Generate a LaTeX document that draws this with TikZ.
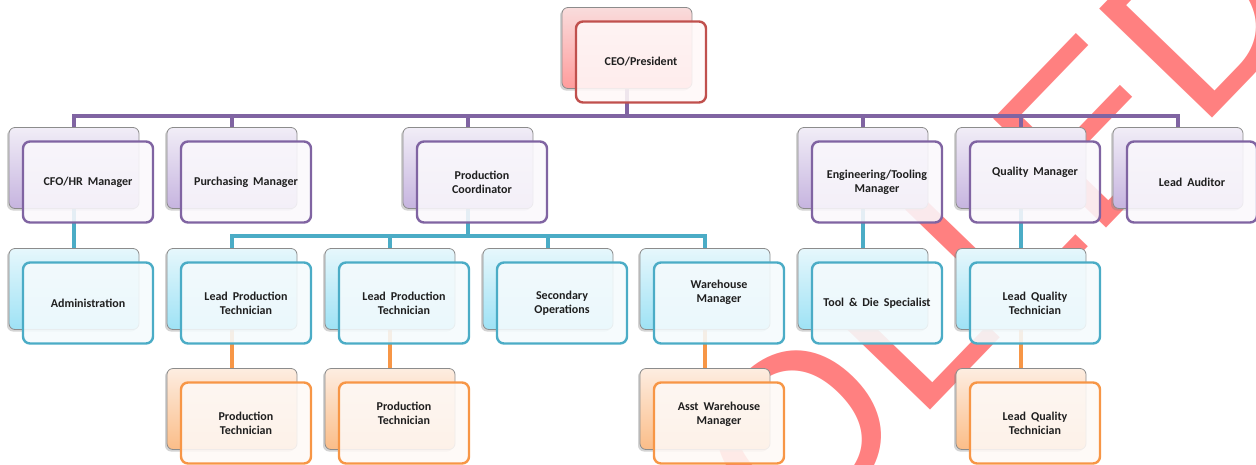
\documentclass[tikz,border=0pt]{standalone}
\usepackage{fontspec}
\setmainfont{Carlito}[WordSpace=1.8]
\newfontfamily\markfont{Liberation Sans}
\usepackage{tikz}
\usetikzlibrary{calc,shadows}

\definecolor{purpline}{HTML}{8064A2}
\definecolor{purptop}{HTML}{F1EDF7}
\definecolor{purpbot}{HTML}{C6B4DF}
\definecolor{purpfront}{HTML}{FAF8FC}
\definecolor{aqualine}{HTML}{4BACC6}
\definecolor{aquatop}{HTML}{E6F7FC}
\definecolor{aquabot}{HTML}{9EE2F5}
\definecolor{aquafront}{HTML}{F5FBFD}
\definecolor{orngline}{HTML}{F79646}
\definecolor{orngtop}{HTML}{FDEDE1}
\definecolor{orngbot}{HTML}{FBBD88}
\definecolor{orngfront}{HTML}{FEF9F6}
\definecolor{redline}{HTML}{C0504D}
\definecolor{redtop}{HTML}{F9DCDC}
\definecolor{redbot}{HTML}{FF9C9C}
\definecolor{redfront}{HTML}{FFF8F8}
\definecolor{stamp}{HTML}{FF8080}

\pgfdeclarelayer{stampl}
\pgfdeclarelayer{links}
\pgfsetlayers{stampl,links,main}

\tikzset{
  panelback/.style={draw=black!45, line width=0.8pt, rounded corners=6pt,
    top color=#1top, bottom color=#1bot, minimum width=130pt, minimum height=81pt,
    inner sep=0pt, drop shadow={shadow xshift=-2pt, shadow yshift=-2pt, opacity=0.35}},
  panelfront/.style={draw=#1line, line width=2.4pt, rounded corners=7pt,
    fill=#1front, fill opacity=0.88, minimum width=130pt, minimum height=81pt, inner sep=0pt},
  boxtext/.style={font=\bfseries\fontsize{12}{14}\selectfont, text=black!88, align=center, inner sep=0pt},
  plink/.style={draw=purpline, line width=4.5pt},
  alink/.style={draw=aqualine, line width=4pt},
  olink/.style={draw=orngline, line width=4pt},
}

% back panel, front panel and its text
\newcommand\orgbox[5][0pt]{%
  \node[panelback=#4] (#2-b) at (#3) {};
  \node[panelfront=#4] (#2) at ($(#3)+(14,14)$) {};
  \node[boxtext] (#2-t) at ([yshift=#1]#2.center) {#5};
}

\begin{document}
\begin{tikzpicture}[x=1pt, y=-1pt]
  %%%%% START %%%%%
  \useasboundingbox (0,0) rectangle (1256,464);

  \begin{pgfonlayer}{stampl}
    \node[anchor=base east, rotate=46, inner sep=0pt, text=stamp,
      font=\markfont\fontsize{228}{228}\selectfont] (stamp) at (1314,13) {UNCONTROLLED};
  \end{pgfonlayer}

  \orgbox{ceo}{627,48}{red}{CEO/President}

  \orgbox{cfo}{74,168}{purp}{CFO/HR Manager}
  \orgbox{buy}{232,168}{purp}{Purchasing Manager}
  \orgbox{prod}{468,168}{purp}{Production\\Coordinator}
  \orgbox{eng}{863,168}{purp}{Engineering/Tooling\\Manager}
  \orgbox[10pt]{qual}{1021,168}{purp}{Quality Manager}
  \orgbox{aud}{1178,168}{purp}{Lead Auditor}

  \orgbox{adm}{74,289}{aqua}{Administration}
  \orgbox{lpt1}{232,289}{aqua}{Lead Production\\Technician}
  \orgbox{lpt2}{390,289}{aqua}{Lead Production\\Technician}
  \orgbox{sec}{548,289}{aqua}{Secondary\\Operations}
  \orgbox[11pt]{wh}{705,289}{aqua}{Warehouse\\Manager}
  \orgbox{tool}{863,289}{aqua}{Tool \& Die Specialist}
  \orgbox{lqt1}{1021,289}{aqua}{Lead Quality\\Technician}

  \orgbox{pt1}{232,409}{orng}{Production\\Technician}
  \orgbox[10pt]{pt2}{390,409}{orng}{Production\\Technician}
  \orgbox[9pt]{asst}{705,409}{orng}{Asst Warehouse\\Manager}
  \orgbox{lqt2}{1021,409}{orng}{Lead Quality\\Technician}

  \coordinate (pbus) at (0,116);
  \coordinate (abus) at (0,236);

  \begin{pgfonlayer}{links}
    % top level
    \draw[plink] (ceo-b.south) -- (ceo-b.south |- pbus);
    \draw[plink] (cfo-b.north) -- (cfo-b.north |- pbus) -- (aud-b.north |- pbus) -- (aud-b.north);
    \draw[plink] (buy-b.north) -- (buy-b.north |- pbus);
    \draw[plink] (prod-b.north) -- (prod-b.north |- pbus);
    \draw[plink] (eng-b.north) -- (eng-b.north |- pbus);
    \draw[plink] (qual-b.north) -- (qual-b.north |- pbus);

    % second level
    \draw[alink] (cfo-b.south) -- (adm-b.north);
    \draw[alink] (prod-b.south) -- (prod-b.south |- abus);
    \draw[alink] (lpt1-b.north) -- (lpt1-b.north |- abus) -- (wh-b.north |- abus) -- (wh-b.north);
    \draw[alink] (lpt2-b.north) -- (lpt2-b.north |- abus);
    \draw[alink] (sec-b.north) -- (sec-b.north |- abus);
    \draw[alink] (eng-b.south) -- (tool-b.north);
    \draw[alink] (qual-b.south) -- (lqt1-b.north);

    % third level
    \draw[olink] (lpt1-b.south) -- (pt1-b.north);
    \draw[olink] (lpt2-b.south) -- (pt2-b.north);
    \draw[olink] (wh-b.south) -- (asst-b.north);
    \draw[olink] (lqt1-b.south) -- (lqt2-b.north);
  \end{pgfonlayer}

  %%%%% END %%%%%
\end{tikzpicture}
\end{document}
